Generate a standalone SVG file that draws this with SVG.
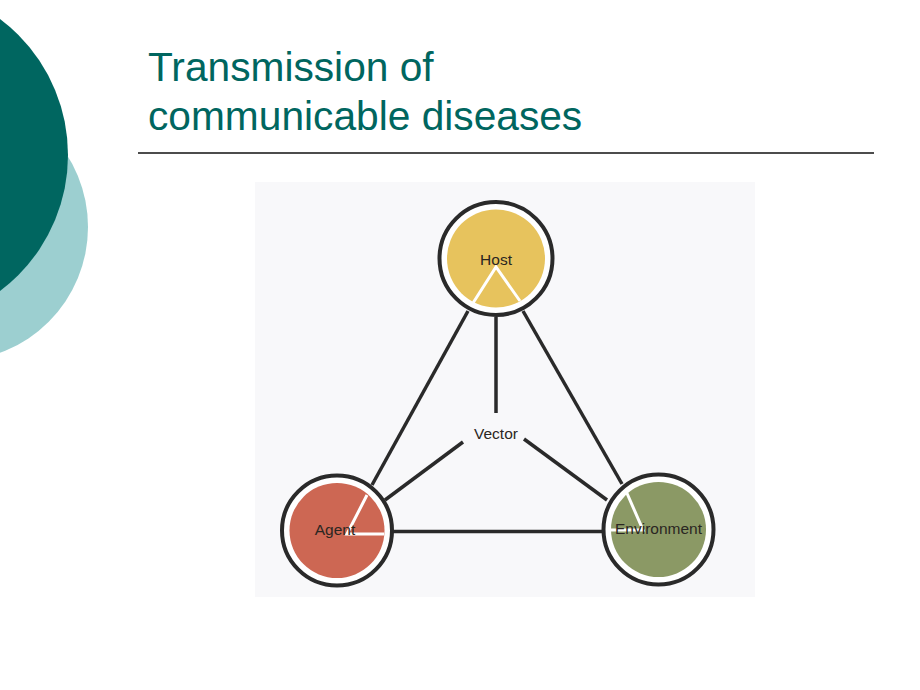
<svg xmlns="http://www.w3.org/2000/svg" width="920" height="690" viewBox="0 0 920 690">
<style>
.title{font-family:"Liberation Sans",Arial,sans-serif;font-size:40.7px;fill:#00665f}
.lbl{font-family:"Liberation Sans",Arial,sans-serif;font-size:15.5px;fill:#2a2622;text-anchor:middle}
.ring{fill:#ffffff;stroke:#2a2a2a;stroke-width:4}
.conn{stroke:#2a2a2a;stroke-width:3.5;stroke-linecap:butt;fill:none}
.cut{stroke:#ffffff;stroke-width:3;fill:none}
</style>
<rect width="920" height="690" fill="#ffffff"/>
<g id="decor">
<circle cx="-46" cy="227" r="134" fill="#9ccfd0"/>
<circle cx="-102" cy="155" r="170" fill="#006660"/>
</g>
<g id="title">
<text class="title" x="148" y="81">Transmission of</text>
<text class="title" x="148" y="130">communicable diseases</text>
<line x1="138" y1="153" x2="874" y2="153" stroke="#111" stroke-width="1.3"/>
</g>
<rect id="scan" x="255" y="182" width="500" height="415" fill="#f8f8fa"/>
<g id="connectors">
<line class="conn" x1="468" y1="311" x2="372" y2="485"/>
<line class="conn" x1="496" y1="317" x2="496" y2="413"/>
<line class="conn" x1="523" y1="311" x2="622" y2="484"/>
<line class="conn" x1="463" y1="442" x2="385" y2="500"/>
<line class="conn" x1="524" y1="439" x2="607" y2="500"/>
<line class="conn" x1="392" y1="531.5" x2="602" y2="531.5"/>
</g>
<g id="host">
<circle class="ring" cx="496" cy="258.5" r="56.5"/>
<circle cx="496" cy="258.5" r="49" fill="#e7c35d"/>
<polyline class="cut" points="473,303 496,267 520,301"/>
<text class="lbl" x="496" y="265">Host</text>
</g>
<g id="vector">
<text class="lbl" x="496" y="439">Vector</text>
</g>
<g id="agent">
<circle class="ring" cx="337" cy="530.5" r="55"/>
<circle cx="337" cy="530.5" r="47.5" fill="#cd6753"/>
<polyline class="cut" points="367,495 347,534 384,534"/>
<text class="lbl" x="335" y="535">Agent</text>
</g>
<g id="environment">
<circle class="ring" cx="658.5" cy="529.5" r="55"/>
<circle cx="658.5" cy="529.5" r="47.5" fill="#8b9965"/>
<polyline class="cut" points="626,491 643,530 611,530"/>
<text class="lbl" x="658.5" y="534">Environment</text>
</g>
</svg>
